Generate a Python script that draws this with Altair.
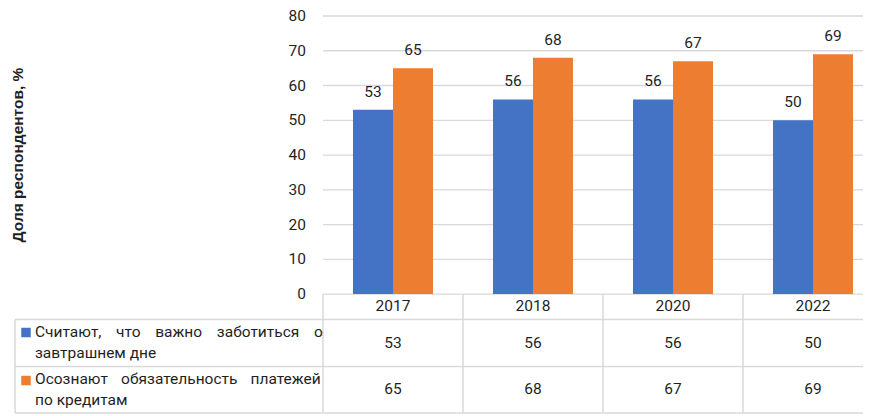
import altair as alt
import pandas as pd

# ---------------- data ----------------
years = ["2017", "2018", "2020", "2022"]
label_lines = [
    ["Считают, что важно заботиться о", "завтрашнем дне"],
    ["Осознают обязательность платежей", "по кредитам"],
]
series = [" ".join(l) for l in label_lines]
values_care = [53, 56, 56, 50]
values_credit = [65, 68, 67, 69]
y_ticks = [0, 10, 20, 30, 40, 50, 60, 70, 80]
axis_title = "Доля респондентов, %"

# ---------------- style ----------------
colors = ["#4472C4", "#ED7D31"]
FONT = "Roboto"
TXT = "#1f1f1f"
GRID = "#d9d9d9"
FS = 15.5

W, H = 848, 398
PAD_L, PAD_T = 7, 8
COL_PX = 140.0                      # width of one year column in pixels
X_MIN = -(323 - (8 + PAD_L)) / COL_PX
X_MAX = X_MIN + W / COL_PX
Y_MIN, Y_MAX = -34.5, 80
BAR_W = 40 / COL_PX
NB = "\u00a0"
THIN = "\u2009"
HAIR = "\u200a"
justify_gap = [NB * 3 + THIN, NB * 3 + HAIR]   # spacing of justified first lines

rows = []
for si, (name, vals) in enumerate(zip(series, [values_care, values_credit])):
    for i, (yr, v) in enumerate(zip(years, vals)):
        rows.append(dict(year=yr, idx=i, s=si, series=name, value=v))
df = pd.DataFrame(rows)

xs = alt.Scale(domain=[X_MIN, X_MAX], nice=False, zero=False)
ys = alt.Scale(domain=[Y_MIN, Y_MAX], nice=False, zero=False)

base = alt.Chart(df).transform_calculate(
    x0=f"datum.idx + 0.5 + (datum.s - 1) * {BAR_W}",
    x1=f"datum.idx + 0.5 + datum.s * {BAR_W}",
    xc=f"datum.idx + 0.5 + (datum.s - 0.5) * {BAR_W}",
    xm="datum.idx + 0.5",
)

bars = base.mark_bar().encode(
    x=alt.X("x0:Q", scale=xs, axis=None),
    x2="x1:Q",
    y=alt.Y("value:Q", scale=ys, axis=None),
    y2=alt.datum(0),
    color=alt.Color("series:N", scale=alt.Scale(domain=series, range=colors), legend=None),
)

bar_labels = base.mark_text(font=FONT, fontSize=FS, color=TXT, dy=-18, baseline="middle").encode(
    x=alt.X("xc:Q", axis=None),
    y=alt.Y("value:Q", axis=None),
    text="value:Q",
)

tick_df = pd.DataFrame({"t": y_ticks})
grid = alt.Chart(tick_df).mark_rule(color=GRID, strokeWidth=1.3).encode(
    y=alt.Y("t:Q", axis=None),
    x=alt.XDatum(0, axis=None),
    x2=alt.datum(X_MAX),
)
tick_labels = alt.Chart(tick_df).mark_text(
    font=FONT, fontSize=FS, color=TXT, align="right", baseline="middle", dx=-17
).encode(
    y=alt.Y("t:Q", axis=None),
    x=alt.XDatum(0, axis=None),
    text="t:Q",
)

one = pd.DataFrame({"k": [0]})
title = alt.Chart(one).mark_text(
    text=axis_title, font="Liberation Sans", fontWeight="bold", fontSize=15.5, color=TXT,
    angle=270, align="center", baseline="middle",
).encode(x=alt.value(3), y=alt.value(139))

# ---------------- table ----------------
ROW_LINES = [303.5, 350.5, 397]   # pixel positions inside plot
TOP_LINE = 278
hline_layers = [
    alt.Chart(one).mark_rule(color=GRID, strokeWidth=1.5).encode(
        y=alt.value(yv), x=alt.XDatum(X_MIN, axis=None), x2=alt.datum(X_MAX)
    ) for yv in ROW_LINES
]
vdf = pd.DataFrame({"xv": list(range(len(years)))})
vlines = alt.Chart(vdf).mark_rule(color=GRID, strokeWidth=1.5).encode(
    x=alt.X("xv:Q", axis=None), y=alt.value(TOP_LINE), y2=alt.value(ROW_LINES[-1])
)
left_border = alt.Chart(one).mark_rule(color=GRID, strokeWidth=1.5).encode(
    x=alt.XDatum(X_MIN, axis=None), y=alt.value(ROW_LINES[0]), y2=alt.value(ROW_LINES[-1])
)

ydf = pd.DataFrame({"year": years, "idx": list(range(len(years)))})
header = alt.Chart(ydf).transform_calculate(xm="datum.idx + 0.5").mark_text(
    font=FONT, fontSize=FS, color=TXT, baseline="middle"
).encode(x=alt.X("xm:Q", axis=None), y=alt.value(290), text="year:N")

ROW_Y = [327, 373]
cell_layers = []
for si in range(2):
    cell_layers.append(
        base.transform_filter(f"datum.s == {si}").mark_text(
            font=FONT, fontSize=FS, color=TXT, baseline="middle"
        ).encode(
            x=alt.X("xm:Q", axis=None), y=alt.value(ROW_Y[si]), text="value:Q"
        )
    )

SQ_Y = [316.5, 364.5]
TXT_Y = [316, 363]
legend_layers = []
for si in range(2):
    l1 = label_lines[si][0].replace(" ", justify_gap[si])
    legend_layers.append(
        alt.Chart(one).mark_square(size=90, color=colors[si], opacity=1).encode(
            x=alt.value(11), y=alt.value(SQ_Y[si])
        )
    )
    legend_layers.append(
        alt.Chart(one).mark_text(
            text=[l1, label_lines[si][1]], font=FONT, fontSize=FS, color=TXT,
            align="left", baseline="middle", lineHeight=21,
        ).encode(x=alt.value(20), y=alt.value(TXT_Y[si]))
    )

chart = alt.layer(
    grid, *hline_layers, vlines, left_border, bars, bar_labels, tick_labels, title,
    header, *cell_layers, *legend_layers,
).properties(
    width=W, height=H,
    autosize=alt.AutoSizeParams(type="none"),
    padding={"left": PAD_L, "top": PAD_T, "right": 0, "bottom": 0},
).configure_view(stroke=None)

chart.save("out.html", embed_options={"renderer": "svg", "actions": False})
